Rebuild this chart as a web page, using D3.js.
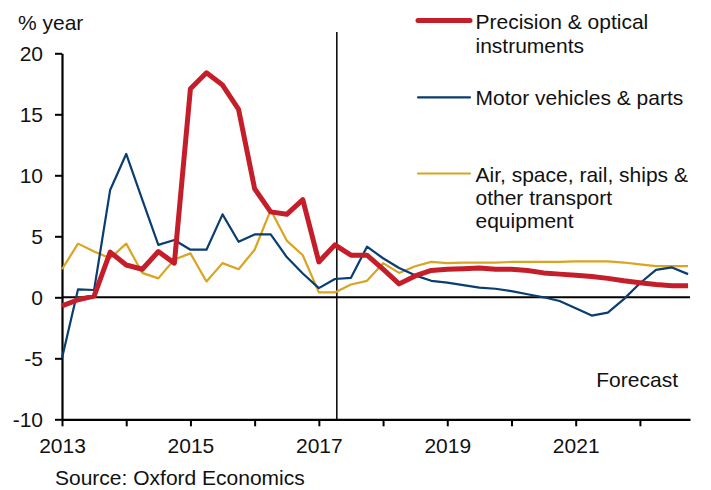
<!DOCTYPE html>
<html>
<head>
<meta charset="utf-8">
<script src="https://cdn.jsdelivr.net/npm/d3@7"></script>
<style>
  body { margin: 0; background: #fff; }
  text { font-family: "Liberation Sans", Arial, sans-serif; fill: #111; }
</style>
</head>
<body>
<div id="chart"></div>
<script>
// quarterly, 2013 Q1 .. 2022 Q4
const startYear = 2013;
const precision = [-0.7, -0.2, 0.1, 3.7, 2.65, 2.3, 3.75, 2.8, 17.1, 18.4, 17.4, 15.4,
  8.9, 7.0, 6.8, 8.0, 2.9, 4.3, 3.45, 3.45, 2.3, 1.1, 1.75, 2.2, 2.3, 2.35, 2.4, 2.3,
  2.3, 2.2, 2.0, 1.9, 1.8, 1.7, 1.55, 1.35, 1.2, 1.05, 0.95, 0.95];
const motor = [-5.0, 0.65, 0.6, 8.8, 11.75, 8.0, 4.3, 4.7, 3.9, 3.9, 6.8, 4.55,
  5.15, 5.15, 3.3, 1.95, 0.75, 1.5, 1.6, 4.15, 3.2, 2.4, 1.8, 1.35, 1.2, 1.0, 0.8, 0.7,
  0.5, 0.25, 0.0, -0.3, -0.9, -1.5, -1.25, -0.15, 1.15, 2.25, 2.45, 1.9];
const transport = [2.3, 4.4, 3.75, 3.2, 4.4, 2.0, 1.55, 3.1, 3.6, 1.3, 2.8, 2.3,
  3.9, 7.15, 4.65, 3.45, 0.4, 0.4, 1.05, 1.35, 2.8, 2.0, 2.55, 2.9, 2.8, 2.85, 2.85, 2.85,
  2.9, 2.9, 2.9, 2.9, 2.95, 2.95, 2.95, 2.85, 2.7, 2.55, 2.55, 2.55];
const seriesNames = [["Precision & optical", "instruments"], ["Motor vehicles & parts"],
  ["Air, space, rail, ships &", "other transport", "equipment"]];
const yTicks = [-10, -5, 0, 5, 10, 15, 20];
const xLabels = [2013, 2015, 2017, 2019, 2021];
const forecastStart = 2017.28;

const W = 711, H = 490;
const FS = 21;
const svg = d3.select("#chart").append("svg").attr("width", W).attr("height", H);

const x = d3.scaleLinear().domain([2013, 2022.78]).range([62, 690]);
const y = d3.scaleLinear().domain([-10, 20]).range([419.3, 53.3]);

// axes
const yAxis = svg.append("g").attr("transform", "translate(62,0)")
  .call(d3.axisLeft(y).tickValues(yTicks).tickSize(7).tickSizeOuter(0).tickPadding(12)
    .tickFormat(d => String(d)));
yAxis.select(".domain").attr("stroke", "#000").attr("stroke-width", 2.2);
yAxis.selectAll(".tick line").attr("stroke", "#000").attr("stroke-width", 2);
yAxis.selectAll(".tick text").attr("font-size", FS).attr("font-family", "Liberation Sans, Arial, sans-serif").attr("fill", "#111");

const xAxis = svg.append("g").attr("transform", "translate(0,419.3)")
  .call(d3.axisBottom(x).tickValues(d3.range(2013, 2023)).tickSize(7).tickSizeOuter(0).tickPadding(12)
    .tickFormat(d => xLabels.includes(d) ? d : ""));
xAxis.select(".domain").attr("stroke", "#000").attr("stroke-width", 2.2);
xAxis.selectAll(".tick line").attr("stroke", "#000").attr("stroke-width", 2);
xAxis.selectAll(".tick text").attr("font-size", FS).attr("font-family", "Liberation Sans, Arial, sans-serif").attr("fill", "#111");

// zero line
svg.append("line").attr("x1", x(2013)).attr("x2", 690).attr("y1", y(0)).attr("y2", y(0))
  .attr("stroke", "#000").attr("stroke-width", 2);

// forecast divider
svg.append("line").attr("x1", x(forecastStart)).attr("x2", x(forecastStart))
  .attr("y1", 32).attr("y2", y(-10)).attr("stroke", "#000").attr("stroke-width", 1.5);

const line = d3.line().x((d, i) => x(startYear + i / 4)).y(d => y(d));

const series = [
  { values: transport, color: "#d9a521", width: 2.2 },
  { values: motor, color: "#0a3d70", width: 2.2 },
  { values: precision, color: "#c41e2a", width: 5 }
];
series.forEach(s => {
  svg.append("path").datum(s.values).attr("d", line)
    .attr("fill", "none").attr("stroke", s.color).attr("stroke-width", s.width)
    .attr("stroke-linejoin", "round");
});

// legend
const legend = [
  { y: 20.5, color: "#c41e2a", width: 5, names: seriesNames[0], base: 28.5, gap: 24.3 },
  { y: 97.3, color: "#0a3d70", width: 2.2, names: seriesNames[1], base: 105, gap: 23.5 },
  { y: 173.5, color: "#d9a521", width: 2.2, names: seriesNames[2], base: 182, gap: 23.2 }
];
legend.forEach(l => {
  svg.append("line").attr("x1", 418).attr("x2", 470).attr("y1", l.y).attr("y2", l.y)
    .attr("stroke", l.color).attr("stroke-width", l.width).attr("stroke-linecap", "round");
  l.names.forEach((t, i) => {
    svg.append("text").attr("x", 475.5).attr("y", l.base + i * l.gap)
      .attr("font-size", FS).text(t);
  });
});

// titles
svg.append("text").attr("x", 18).attr("y", 29.5).attr("font-size", FS).text("% year");
svg.append("text").attr("x", 678).attr("y", 387).attr("font-size", FS)
  .attr("text-anchor", "end").text("Forecast");
svg.append("text").attr("x", 55).attr("y", 485).attr("font-size", FS)
  .text("Source: Oxford Economics");
</script>
</body>
</html>
